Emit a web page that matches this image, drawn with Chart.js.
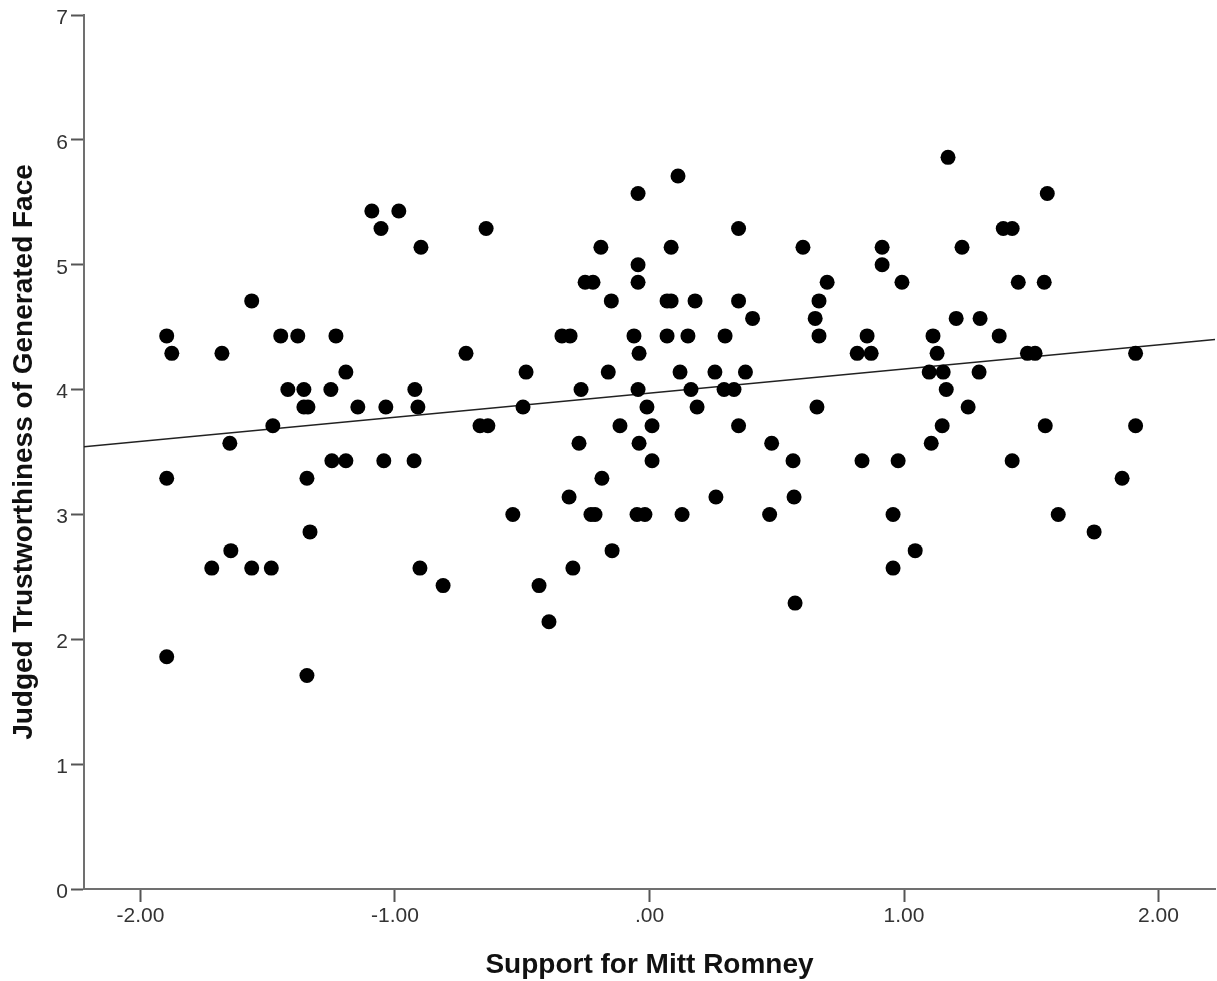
<!DOCTYPE html>
<html>
<head>
<meta charset="utf-8">
<script src="https://cdn.jsdelivr.net/npm/chart.js@4/dist/chart.umd.min.js"></script>
<style>
  html, body { margin: 0; padding: 0; background: #fff; overflow: hidden; }
  #wrap { width: 1217px; height: 981px; position: relative; overflow: hidden; }
  #scatterChart { display: block; }
</style>
</head>
<body>
<div id="wrap"><canvas id="scatterChart" width="1217" height="981"></canvas></div>
<script>
// Support for Mitt Romney (x) vs judged trustworthiness (y)
const supportX = [
  -1.897, -1.877, -1.897, -1.897, -1.720, -1.680, -1.649, -1.645, -1.563, -1.563,
  -1.480, -1.486, -1.449, -1.421, -1.382, -1.358, -1.358, -1.342, -1.346, -1.334,
  -1.346, -1.252, -1.248, -1.232, -1.193, -1.193, -1.146, -1.091, -1.055, -1.036,
  -1.044, -0.985, -0.922, -0.925, -0.910, -0.898, -0.902, -0.811, -0.721, -0.666,
  -0.635, -0.642, -0.537, -0.497, -0.485, -0.434, -0.395, -0.344, -0.312, -0.316,
  -0.301, -0.277, -0.269, -0.253, -0.222, -0.230, -0.214, -0.191, -0.187, -0.162,
  -0.150, -0.147, -0.116, -0.061, -0.049, -0.045, -0.045, -0.045, -0.041, -0.045,
  -0.041, -0.018, -0.010, 0.010, 0.010, 0.069, 0.069, 0.085, 0.085, 0.112,
  0.120, 0.128, 0.151, 0.163, 0.179, 0.187, 0.257, 0.261, 0.293, 0.297,
  0.332, 0.350, 0.350, 0.350, 0.377, 0.405, 0.472, 0.480, 0.564, 0.568,
  0.572, 0.603, 0.651, 0.658, 0.666, 0.666, 0.698, 0.816, 0.835, 0.855,
  0.871, 0.914, 0.914, 0.957, 0.957, 0.977, 0.992, 1.044, 1.099, 1.107,
  1.114, 1.130, 1.150, 1.154, 1.166, 1.173, 1.205, 1.228, 1.252, 1.295,
  1.299, 1.374, 1.390, 1.425, 1.425, 1.449, 1.485, 1.515, 1.551, 1.555,
  1.563, 1.606, 1.747, 1.857, 1.910, 1.910
];

const trustY = [
  4.43, 4.29, 3.29, 1.86, 2.57, 4.29, 3.57, 2.71, 4.71, 2.57,
  3.71, 2.57, 4.43, 4.00, 4.43, 4.00, 3.86, 3.86, 3.29, 2.86,
  1.71, 4.00, 3.43, 4.43, 4.14, 3.43, 3.86, 5.43, 5.29, 3.86,
  3.43, 5.43, 4.00, 3.43, 3.86, 5.14, 2.57, 2.43, 4.29, 3.71,
  3.71, 5.29, 3.00, 3.86, 4.14, 2.43, 2.14, 4.43, 4.43, 3.14,
  2.57, 3.57, 4.00, 4.86, 4.86, 3.00, 3.00, 5.14, 3.29, 4.14,
  4.71, 2.71, 3.71, 4.43, 3.00, 5.57, 5.00, 4.86, 4.29, 4.00,
  3.57, 3.00, 3.86, 3.71, 3.43, 4.43, 4.71, 4.71, 5.14, 5.71,
  4.14, 3.00, 4.43, 4.00, 4.71, 3.86, 4.14, 3.14, 4.00, 4.43,
  4.00, 5.29, 4.71, 3.71, 4.14, 4.57, 3.00, 3.57, 3.43, 3.14,
  2.29, 5.14, 4.57, 3.86, 4.71, 4.43, 4.86, 4.29, 3.43, 4.43,
  4.29, 5.14, 5.00, 3.00, 2.57, 3.43, 4.86, 2.71, 4.14, 3.57,
  4.43, 4.29, 3.71, 4.14, 4.00, 5.86, 4.57, 5.14, 3.86, 4.14,
  4.57, 4.43, 5.29, 5.29, 3.43, 4.86, 4.29, 4.29, 4.86, 3.71,
  5.57, 3.00, 2.86, 3.29, 4.29, 3.71
];

// fit line end points
const fitX = [-2.222, 2.222];
const fitY = [3.543, 4.401];

const xTicks = [-2, -1, 0, 1, 2];
const xTickLabels = ["-2.00", "-1.00", ".00", "1.00", "2.00"];
const yTicks = [0, 1, 2, 3, 4, 5, 6, 7];

const FONT = "'Liberation Sans', Arial, Helvetica, sans-serif";

function initChart() {
  const ctx = document.getElementById("scatterChart").getContext("2d");
  const points = supportX.map((x, i) => ({ x: x, y: trustY[i] }));
  const fit = fitX.map((x, i) => ({ x: x, y: fitY[i] }));

  new Chart(ctx, {
    type: "scatter",
    data: {
      datasets: [
        {
          type: "line",
          data: fit,
          borderColor: "#222",
          borderWidth: 1.5,
          pointRadius: 0,
          fill: false,
          order: 2,
        },
        {
          data: points,
          backgroundColor: "#000",
          borderColor: "#000",
          borderWidth: 0,
          pointRadius: 7.5,
          pointHoverRadius: 7.5,
          order: 1,
        },
      ],
    },
    options: {
      responsive: false,
      animation: false,
      devicePixelRatio: 1,
      layout: { autoPadding: false, padding: { top: 15, right: 2, left: 0, bottom: 0 } },
      plugins: {
        legend: { display: false },
        tooltip: { enabled: false },
      },
      scales: {
        x: {
          type: "linear",
          min: -2.222,
          max: 2.222,
          afterBuildTicks: (scale) => {
            scale.ticks = xTicks.map((v) => ({ value: v }));
          },
          afterFit: (scale) => {
            scale.height = 92;
            scale.paddingLeft = 0;
            scale.paddingRight = 0;
          },
          border: { display: true, color: "#707070", width: 2 },
          grid: {
            drawOnChartArea: false,
            drawTicks: true,
            tickLength: 13,
            tickColor: "#555",
            tickWidth: 2,
          },
          ticks: {
            autoSkip: false,
            maxRotation: 0,
            padding: 2,
            color: "#333",
            font: { family: FONT, size: 21 },
            callback: (v) => xTickLabels[xTicks.indexOf(v)] ?? "",
          },
          title: {
            display: true,
            text: "Support for Mitt Romney",
            color: "#111",
            font: { family: FONT, size: 28, weight: "bold", lineHeight: 1.12 },
            padding: { top: 0, bottom: 0 },
          },
        },
        y: {
          type: "linear",
          min: 0,
          max: 7,
          afterBuildTicks: (scale) => {
            scale.ticks = yTicks.map((v) => ({ value: v }));
          },
          afterFit: (scale) => {
            scale.width = 84;
            scale.paddingTop = 0;
            scale.paddingBottom = 0;
          },
          border: { display: true, color: "#707070", width: 2 },
          grid: {
            drawOnChartArea: false,
            drawTicks: true,
            tickLength: 13,
            tickColor: "#555",
            tickWidth: 2,
          },
          ticks: {
            padding: 3,
            labelOffset: 3,
            color: "#333",
            font: { family: FONT, size: 21 },
          },
          title: {
            display: true,
            text: "Judged Trustworthiness of Generated Face",
            color: "#111",
            font: { family: FONT, size: 28, weight: "bold", lineHeight: 1.12 },
            padding: { top: 9, bottom: 0 },
          },
        },
      },
    },
  });
}

window.onload = () => {
  initChart();
};
</script>
</body>
</html>
